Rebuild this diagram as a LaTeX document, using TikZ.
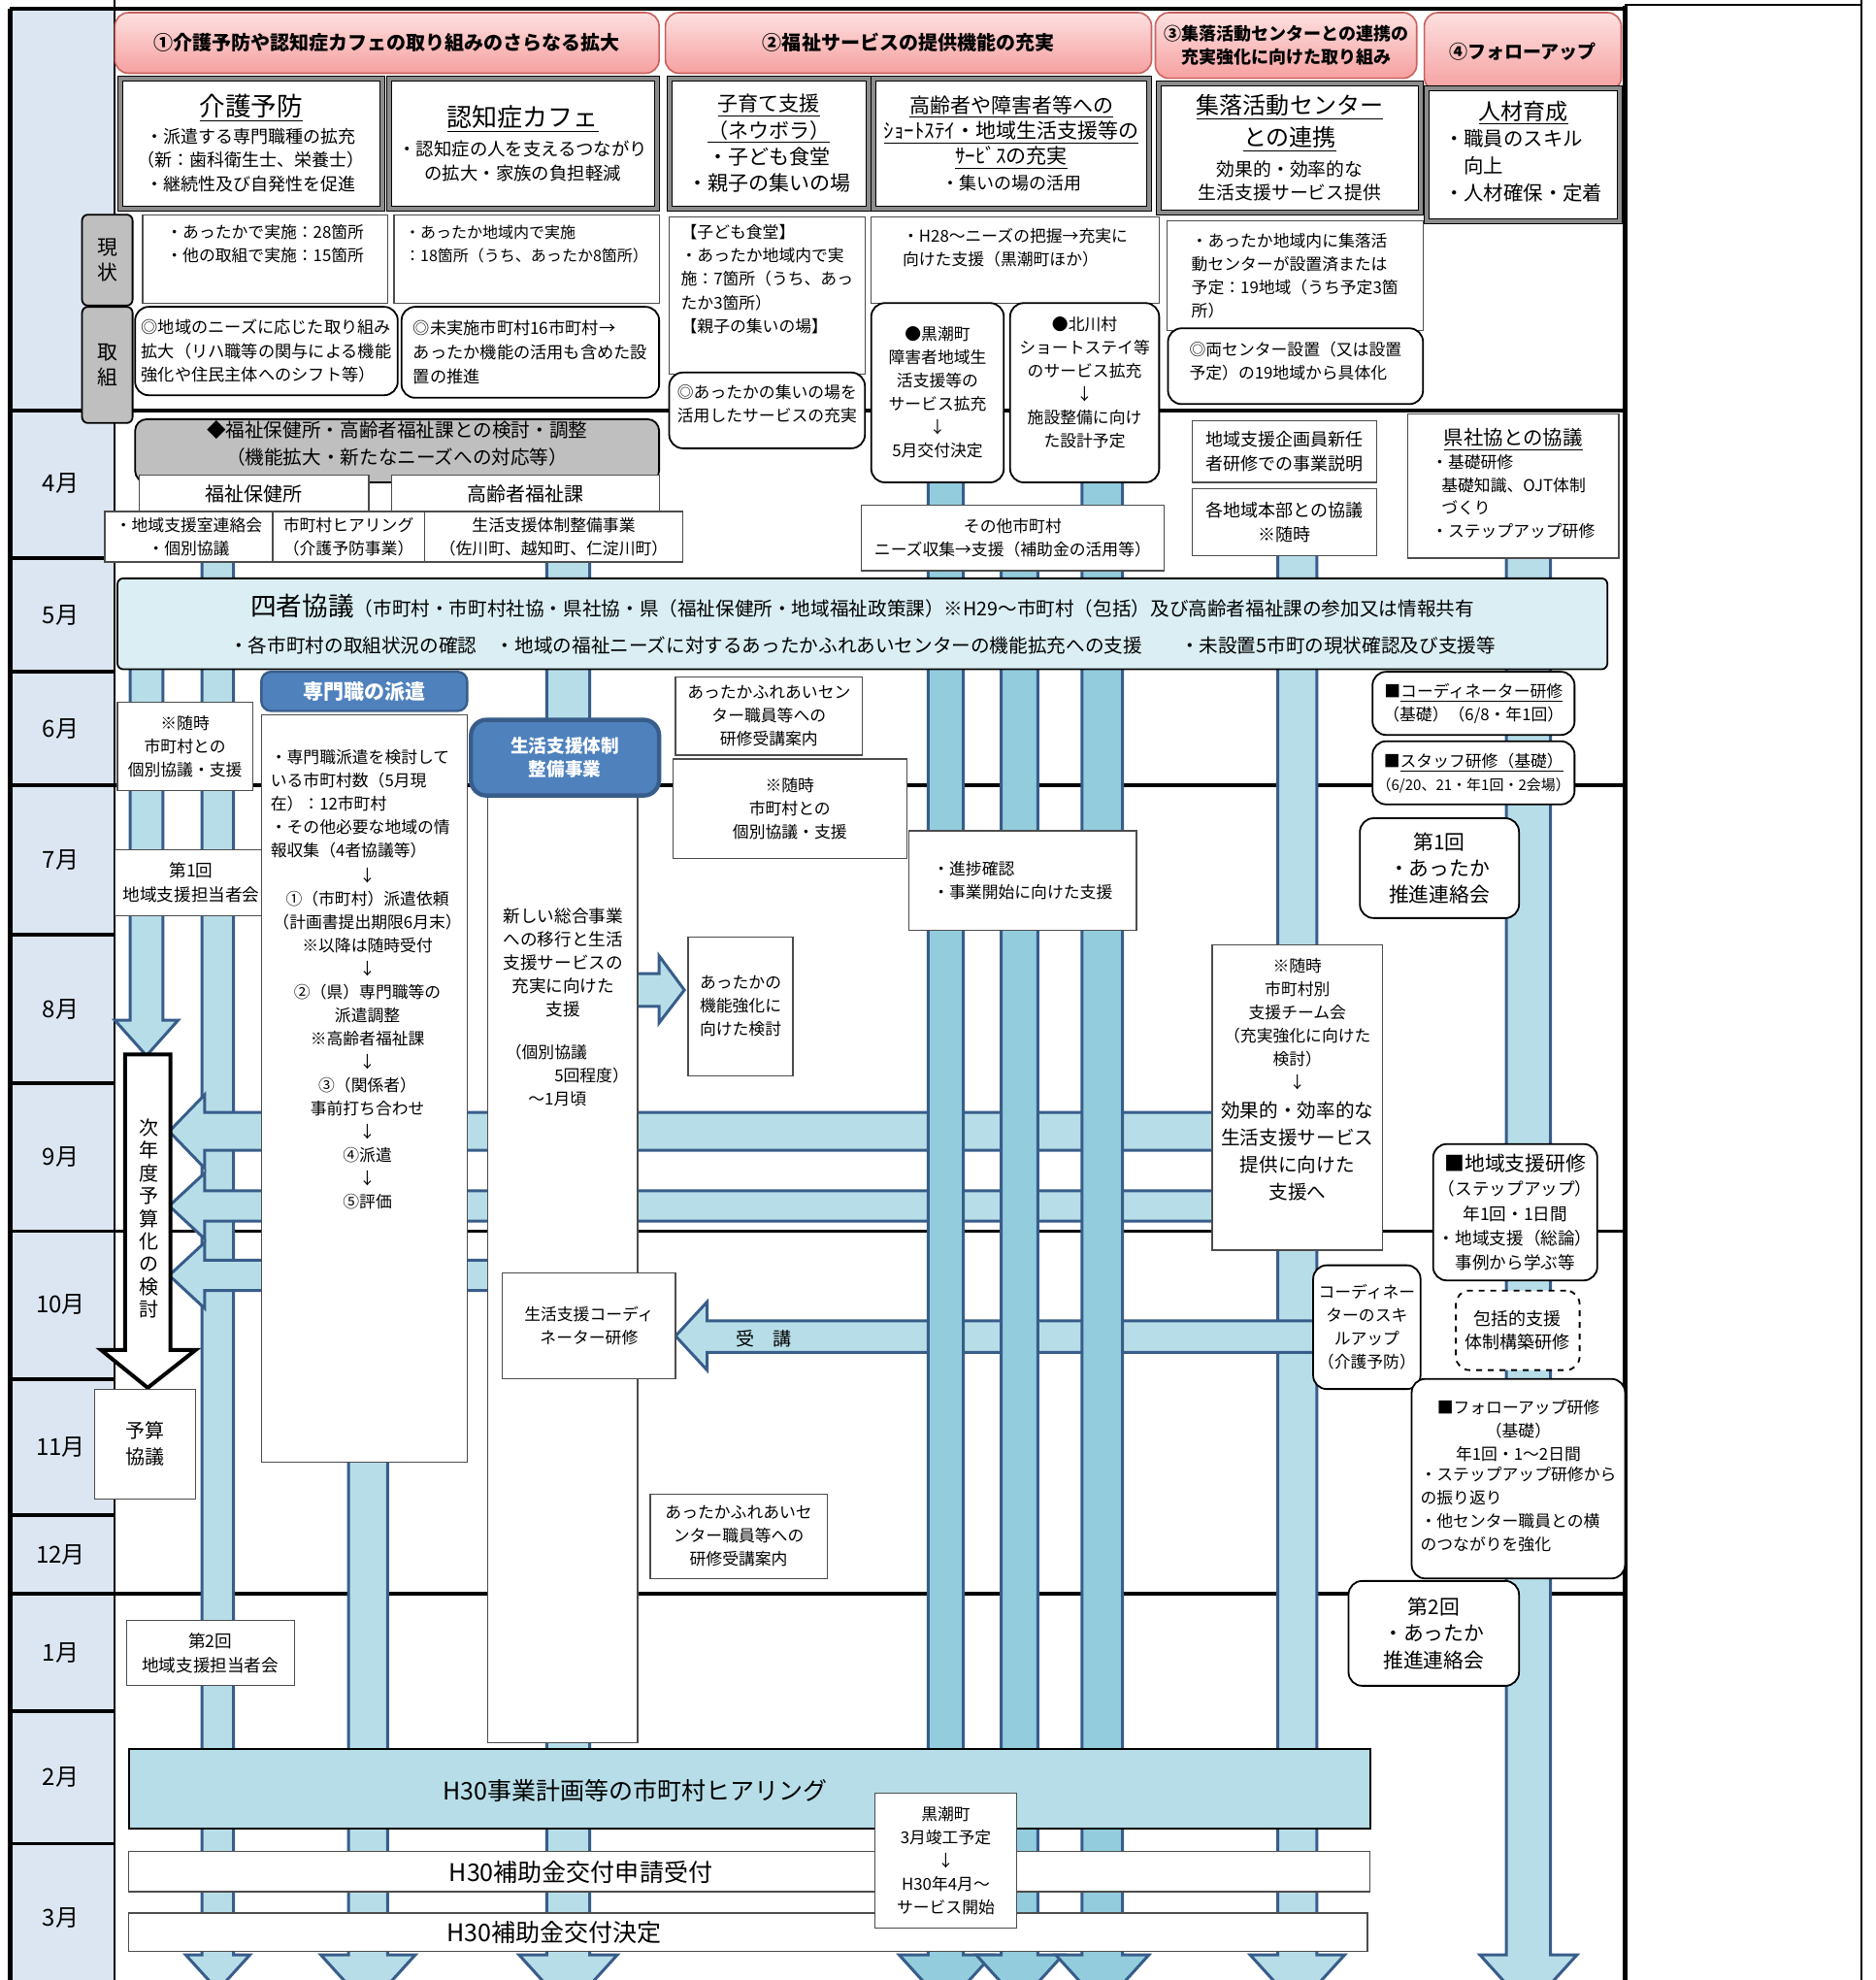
\documentclass[tikz,border=0pt]{standalone}
\usepackage{fontspec}
\setmainfont{Noto Sans CJK JP}
\usepackage{xcolor}
\definecolor{scmonth}{HTML}{DCE6F2}
\definecolor{scbar}{HTML}{B7DEE8}
\definecolor{scbard}{HTML}{93CDDD}
\definecolor{scedge}{HTML}{385D8A}
\definecolor{scblue}{HTML}{4F81BD}
\definecolor{scgray}{HTML}{BFBFBF}
\definecolor{scpale}{HTML}{DAEEF3}
\definecolor{scpinkt}{HTML}{FDE0E0}
\definecolor{scpinkb}{HTML}{F6A0A0}
\definecolor{scred}{HTML}{C9605D}
\definecolor{scframe}{HTML}{8C8C8C}
\newcommand\fz[1]{\fontsize{#1}{#1}\selectfont}
\tikzset{
  bw/.style    ={minimum width=#1*0.65pt},
  bh/.style    ={minimum height=#1*0.65pt},
  scup/.style  ={text depth={(2*#1+3)*0.65pt}},
  scf/.style   ={font=\fontsize{8.4}{12}\selectfont},
  fnt/.style 2 args={font=\fontsize{#1}{#2}\selectfont},
  scbox/.style ={rectangle, draw=black!70, line width=0.6pt, fill=white, align=center,
                 inner sep=1pt, scf},
  scround/.style={scbox, draw=black, line width=0.9pt, rounded corners=7pt},
  sctopic/.style={rectangle, draw=black, line width=0.5pt, double=scframe, double distance=2pt,
                 fill=white, align=center, inner sep=1pt},
  schead/.style={rectangle, rounded corners=7pt, draw=scred, line width=0.8pt,
                 top color=scpinkt, bottom color=scpinkb, align=center,
                 font=\fontsize{10}{13}\selectfont\bfseries},
  sclabel/.style={rectangle, rounded corners=3pt, draw=black, line width=0.9pt, fill=scgray,
                 align=center, font=\fontsize{10.4}{13}\selectfont},
  scbluehead/.style={rectangle, rounded corners=5pt, draw=scedge, line width=1.2pt, fill=scblue,
                 text=white, align=center, inner sep=1pt},
  sctxt/.style ={align=center, inner sep=0pt, scf},
  scmon/.style ={font=\fontsize{12}{14}\selectfont},
}
\begin{document}
\begin{tikzpicture}[x=0.65pt, y=-0.65pt,
   scbarst/.style={draw=scedge, line width=1.5pt, line join=miter},
   scline/.style ={draw=black, line width=1.8pt}]
  \path[use as bounding box, clip] (0,0) rectangle (1485,1568);
  \fill[white] (0,0) rectangle (1485,1568);
  \fill[scmonth] (8,8) rectangle (91,1568);
  \draw[line width=2.4pt] (8,7) -- (8,1568);
  \draw[line width=1.1pt] (91,0) -- (91,1568);
  \draw[scline] (8,7) -- (1287,7);
  \draw[line width=0.8pt] (1287,4) -- (1474,4);
  \draw[line width=2.6pt] (1287,5) -- (1287,1568);
  \draw[line width=1pt] (1474,0) -- (1474,1568);
  \foreach \y in {325,442,532,622,740,858,975,1092,1200,1262,1355,1460}
    \draw[scline] (8,\y) -- (91,\y);
  \foreach \y in {325,622,975,1262}
    \draw[scline] (91,\y) -- (1287,\y);
  \foreach \m/\y in {4/383,5/487,6/577,7/681,8/799,9/916,10/1033,11/1146,12/1231,1/1309,2/1407,3/1519}
    \node[scmon] (mon\m) at (48,\y) {\m{}月};

  \filldraw[scbarst, fill=scbar] (103,530) -- (103,808) -- (91,808) -- (116,836) -- (141,808) -- (129,808) -- (129,530);
  \foreach \xa/\xb/\yt/\ext in {160/185/444/13, 276/307/1158/22, 433/467/444/22, 1012/1043/440/22, 1193/1228/442/21}
    \filldraw[scbarst, fill=scbar] (\xa,\yt) -- (\xa,1548) -- (\xa-\ext,1548)
      -- ({(\xa+\xb)/2},{1548+1.1*((\xb-\xa)/2+\ext)}) -- (\xb+\ext,1548) -- (\xb,1548) -- (\xb,\yt);
  \foreach \yt/\yb/\xr in {881/911/960, 943/967/960, 998/1022/386}
    \filldraw[scbarst, fill=scbar] (\xr,\yt) -- (162,\yt) -- (162,\yt-14) -- (134,{(\yt+\yb)/2})
      -- (162,\yb+14) -- (162,\yb) -- (\xr,\yb);
  \filldraw[scbarst, fill=scbar] (1040,1046) -- (560,1046) -- (560,1031) -- (535,1058) -- (560,1085) -- (560,1071) -- (1040,1071);
  \filldraw[scbarst, fill=scbar] (505,771) -- (522,771) -- (522,757) -- (542,784) -- (522,810) -- (522,797) -- (505,797);
  \foreach \xa/\xb/\yt/\ext in {735/763/382/23, 793/822/452/20, 857/889/382/21}
    \filldraw[scbarst, fill=scbard] (\xa,\yt) -- (\xa,1548) -- (\xa-\ext,1548)
      -- ({(\xa+\xb)/2},{1548+1.1*((\xb-\xa)/2+\ext)}) -- (\xb+\ext,1548) -- (\xb,1548) -- (\xb,\yt);
  \filldraw[fill=white, draw=black, line width=2pt] (99,835) -- (135,835) -- (135,1069) -- (155,1069)
    -- (117,1099) -- (80,1069) -- (99,1069) -- cycle;

  \node[schead, bw=431, bh=48] (h1) at (306.5,34) {①介護予防や認知症カフェの取り組みのさらなる拡大};
  \node[schead, bw=385, bh=48] (h2) at (719.5,34) {②福祉サービスの提供機能の充実};
  \node[schead, bw=207, bh=52, font=\fontsize{9}{11.7}\selectfont\bfseries] (h3) at (1018.5,36) {③集落活動センターとの連携の\\充実強化に向けた取り組み};
  \node[schead, bw=156, bh=62, font=\fontsize{9.5}{12}\selectfont\bfseries] (h4) at (1206,41) {④フォローアップ};

  \node[sctopic, bw=208, bh=103, fnt={9}{12.3}] (t1) at (199,113.5) {{\fz{13.3}\underline{介護予防}}\\[1.5pt]・派遣する専門職種の拡充\\（新：歯科衛生士、栄養士）\\・継続性及び自発性を促進};
  \node[sctopic, bw=212, bh=103, fnt={9.2}{12.3}] (t2) at (414,113.5) {{\fz{13}\underline{認知症カフェ}}\\[3pt]・認知症の人を支えるつながり\\の拡大・家族の負担軽減};
  \node[sctopic, bw=158, bh=103, fnt={10.5}{13.6}] (t3) at (609,113.5) {\underline{子育て支援}\\\underline{（ネウボラ）}\\・子ども食堂\\・親子の集いの場};
  \node[sctopic, bw=218, bh=103, fnt={10.5}{13.2}] (t4) at (801,113.5) {\underline{高齢者や障害者等への}\\\underline{ｼｮｰﾄｽﾃｲ・地域生活支援等の}\\\underline{ｻｰﾋﾞｽの充実}\\{\fz{9}・集いの場の活用}};
  \node[sctopic, bw=207, bh=102, fnt={9.4}{12.4}] (t5) at (1021.5,117) {{\fz{12}\underline{集落活動センター}}\\[2.4pt]{\fz{12}\underline{との連携}}\\[3pt]効果的・効率的な\\生活支援サービス提供};
  \node[sctopic, bw=153, bh=105, fnt={10.2}{14}] (t6) at (1206.5,122.5) {{\fz{11.5}\underline{人材育成}}\\\begin{tabular}{@{}l@{}}・職員のスキル\\\hspace*{1em}向上\\・人材確保・定着\end{tabular}};

  \node[sclabel, bw=40, bh=72] (lGen) at (85,206) {現\\状};
  \node[sclabel, bw=40, bh=92] (lTori) at (85,289) {取\\組};
  \node[scbox, bw=194, bh=70, align=left, scup=11] (gA) at (210,205) {・あったかで実施：28箇所\\・他の取組で実施：15箇所};
  \node[scbox, bw=210, bh=70, align=left, scup=11, fnt={8}{12}] (gB) at (417,205) {・あったか地域内で実施\\：18箇所（うち、あったか8箇所）};
  \node[scbox, bw=155, bh=124, align=left, scup=12] (gC) at (607.5,234) {【子ども食堂】\\・あったか地域内で実\\施：7箇所（うち、あっ\\たか3箇所）\\【親子の集いの場】};
  \node[scbox, bw=228, bh=68, align=left, scup=9] (gD) at (804,206) {・H28～ニーズの把握→充実に\\向けた支援（黒潮町ほか）};
  \node[scbox, bw=203, bh=87, align=left] (gE) at (1025.5,218.5) {・あったか地域内に集落活\\動センターが設置済または\\予定：19地域（うち予定3箇\\所）};
  \node[scround, bw=208, bh=70, align=left, fnt={8.6}{12.4}] (rF) at (211,278) {◎地域のニーズに応じた取り組み\\拡大（リハ職等の関与による機能\\強化や住民主体へのシフト等）};
  \node[scround, bw=204, bh=72, align=left, fnt={8.6}{12.4}] (rG) at (420,279) {◎未実施市町村16市町村→\\あったか機能の活用も含めた設\\置の推進};
  \node[scround, bw=155, bh=60, align=left, scup=4] (rH) at (607.5,325) {◎あったかの集いの場を\\活用したサービスの充実};
  \node[scround, bw=105, bh=142] (rI) at (742.5,311) {●黒潮町\\障害者地域生\\活支援等の\\サービス拡充\\↓\\5月交付決定};
  \node[scround, bw=118, bh=142, scup=7] (rJ) at (859,311) {●北川村\\ショートステイ等\\のサービス拡充\\↓\\施設整備に向け\\た設計予定};
  \node[scround, bw=202, bh=60, align=left, scup=3] (rK) at (1026,290) {◎両センター設置（又は設置\\予定）の19地域から具体化};

  \node[scbox, fill=scgray, draw=black, line width=0.9pt, rounded corners=6pt, bw=415, bh=50, fnt={9.8}{13.6}, scup=5] (aGray) at (314.5,357) {◆福祉保健所・高齢者福祉課との検討・調整\\（機能拡大・新たなニーズへの対応等）};
  \node[scbox, bw=182, bh=30, fnt={10}{12}] (aFuku) at (201,391) {福祉保健所};
  \node[scbox, bw=212, bh=30, fnt={10}{12}] (aKou) at (416,391) {高齢者福祉課};
  \node[scbox, bw=133, bh=40] (aR1) at (149.5,425) {・地域支援室連絡会\\・個別協議};
  \node[scbox, bw=120, bh=40] (aR2) at (276,425) {市町村ヒアリング\\（介護予防事業）};
  \node[scbox, bw=205, bh=40] (aR3) at (438.5,425) {生活支援体制整備事業\\（佐川町、越知町、仁淀川町）};
  \node[scbox, bw=240, bh=52] (aOther) at (802,426) {その他市町村\\ニーズ収集→支援（補助金の活用等）};
  \node[scbox, bw=146, bh=49, fnt={9}{12.3}] (aKika) at (1017,357.5) {地域支援企画員新任\\者研修での事業説明};
  \node[scbox, bw=146, bh=53, fnt={9}{12.3}] (aHon) at (1017,413.5) {各地域本部との協議\\※随時};
  \node[scbox, bw=167, bh=114, fnt={8.4}{11.8}] (aKen) at (1198.5,385) {{\fz{10.2}\underline{県社協との協議}}\\\begin{tabular}{@{}l@{}}・基礎研修\\\hspace*{0.6em}基礎知識、OJT体制\\\hspace*{0.6em}づくり\\・ステップアップ研修\end{tabular}};

  \node[scbox, fill=scpale, draw=black, line width=0.9pt, rounded corners=3pt, bw=1180, bh=72, fnt={9.8}{19}] (may4) at (683,494) {{\fz{13.3}四者協議}（市町村・市町村社協・県社協・県（福祉保健所・地域福祉政策課）※H29～市町村（包括）及び高齢者福祉課の参加又は情報共有\\・各市町村の取組状況の確認　・地域の福祉ニーズに対するあったかふれあいセンターの機能拡充への支援　　・未設置5市町の現状確認及び支援等};

  \node[scbox, bw=107, bh=70] (lZui) at (146.5,591) {※随時\\市町村との\\個別協議・支援};
  \node[scbox, bw=121, bh=52, fnt={8.8}{12.3}] (lDai1) at (151.5,699) {第1回\\地域支援担当者会};
  \node[sctxt, fnt={10}{11.7}] (yNext) at (118,965) {次\\年\\度\\予\\算\\化\\の\\検\\討};
  \node[scbox, bw=80, bh=87, fnt={10}{13.6}] (lKyo) at (115,1143.5) {予算\\協議};
  \node[scbox, bw=133, bh=52, fnt={8.8}{12.3}] (lDai2) at (166.5,1309) {第2回\\地域支援担当者会};

  \node[scbluehead, bw=163, bh=31, font=\fontsize{10.5}{13}\selectfont\bfseries] (sHead) at (288.5,547.5) {専門職の派遣};
  \node[scbox, bw=163, bh=592] (sBody) at (288.5,862) {};
  \node[sctxt, anchor=north west, align=left] (sTextA) at (214,593) {・専門職派遣を検討して\\いる市町村数（5月現\\在）：12市町村\\・その他必要な地域の情\\報収集（4者協議等）};
  \node[sctxt, anchor=north] (sTextB) at (291,687) {↓\\①（市町村）派遣依頼\\（計画書提出期限6月末）\\※以降は随時受付\\↓\\②（県）専門職等の\\派遣調整\\※高齢者福祉課\\↓\\③（関係者）\\事前打ち合わせ\\↓\\④派遣\\↓\\⑤評価};

  \node[scbox, bw=119, bh=750] (kBody) at (445.5,1005) {};
  \node[scbluehead, line width=2.2pt, rounded corners=8pt, bw=149, bh=60, font=\fontsize{9.3}{12.3}\selectfont\bfseries] (kHead) at (447.5,600) {生活支援体制\\整備事業};
  \node[sctxt, fnt={8.8}{12}] (kTextA) at (446,762) {新しい総合事業\\への移行と生活\\支援サービスの\\充実に向けた\\支援};
  \node[sctxt, anchor=north west, align=left] (kTextB) at (400,827) {（個別協議\\\hspace*{3em}5回程度）\\\hspace*{1.4em}～1月頃};
  \node[scbox, bw=137, bh=84] (kCoord) at (466.5,1050) {生活支援コーディ\\ネーター研修};
  \node[scbox, bw=140, bh=67] (kDec) at (585,1216.5) {あったかふれあいセ\\ンター職員等への\\研修受講案内};
  \node[sctxt, fnt={9.5}{12}] (jukou) at (605,1060) {受　講};

  \node[scbox, bw=148, bh=62] (cJun) at (609,567) {あったかふれあいセン\\ター職員等への\\研修受講案内};
  \node[scbox, bw=185, bh=79] (cZui) at (625.5,640.5) {※随時\\市町村との\\個別協議・支援};
  \node[scbox, bw=83, bh=110] (cKen) at (586.5,797) {あったかの\\機能強化に\\向けた検討};
  \node[scbox, bw=180, bh=79, align=left] (cShin) at (810,697.5) {・進捗確認\\・事業開始に向けた支援};

  \node[scbox, bw=135, bh=242, scup=13] (tTeam) at (1027.5,869) {※随時\\市町村別\\支援チーム会\\（充実強化に向けた\\検討）\\↓\\[3pt]{\fz{9.8}効果的・効率的な}\\[2pt]{\fz{9.8}生活支援サービス}\\[2pt]{\fz{9.8}提供に向けた}\\[2pt]{\fz{9.8}支援へ}};
  \node[scround, bw=85, bh=98] (tCoord) at (1082.5,1051) {コーディネー\\ターのスキ\\ルアップ\\（介護予防）};

  \node[scround, bw=160, bh=50] (fCo) at (1167,557) {■\underline{コーディネーター研修}\\（基礎）（6/8・年1回）};
  \node[scround, bw=160, bh=50] (fSt) at (1167,612) {■\underline{スタッフ研修（基礎）}\\{\fz{7.5}（6/20、21・年1回・2会場）}};
  \node[scround, bw=126, bh=79, fnt={10.4}{13.6}] (fDai1) at (1140,687.5) {第1回\\・あったか\\推進連絡会};
  \node[scround, bw=130, bh=108, fnt={8.8}{12.6}] (fChi) at (1200,960) {{\fz{10.4}■地域支援研修}\\（ステップアップ）\\年1回・1日間\\・地域支援（総論）\\事例から学ぶ等};
  \node[scround, dashed, bw=98, bh=63, fnt={9}{12.4}] (fHou) at (1202,1053.5) {包括的支援\\体制構築研修};
  \node[scround, bw=169, bh=158] (fFol) at (1202.5,1171) {■フォローアップ研修\\（基礎）\\年1回・1～2日間\\\begin{tabular}{@{}l@{}}・ステップアップ研修から\\の振り返り\\・他センター職員との横\\のつながりを強化\end{tabular}};
  \node[scround, bw=135, bh=83, fnt={10.4}{13.6}] (fDai2) at (1135.5,1293.5) {第2回\\・あったか\\推進連絡会};

  \node[scbox, fill=scbar, draw=black, line width=0.9pt, bw=983, bh=63] (bHear) at (593.5,1416.5) {};
  \node[sctxt, fnt={12.5}{15}] (bHearT) at (503,1418) {H30事業計画等の市町村ヒアリング};
  \node[scbox, bw=983, bh=32] (bShin) at (593.5,1482) {};
  \node[sctxt, fnt={12.5}{15}] (bShinT) at (460,1483) {H30補助金交付申請受付};
  \node[scbox, bw=981, bh=30] (bKet) at (592.5,1530) {};
  \node[sctxt, fnt={12.5}{15}] (bKetT) at (439,1530) {H30補助金交付決定};
  \node[scbox, bw=112, bh=107] (bKuro) at (749,1473.5) {黒潮町\\3月竣工予定\\↓\\H30年4月～\\サービス開始};
\end{tikzpicture}
\end{document}
